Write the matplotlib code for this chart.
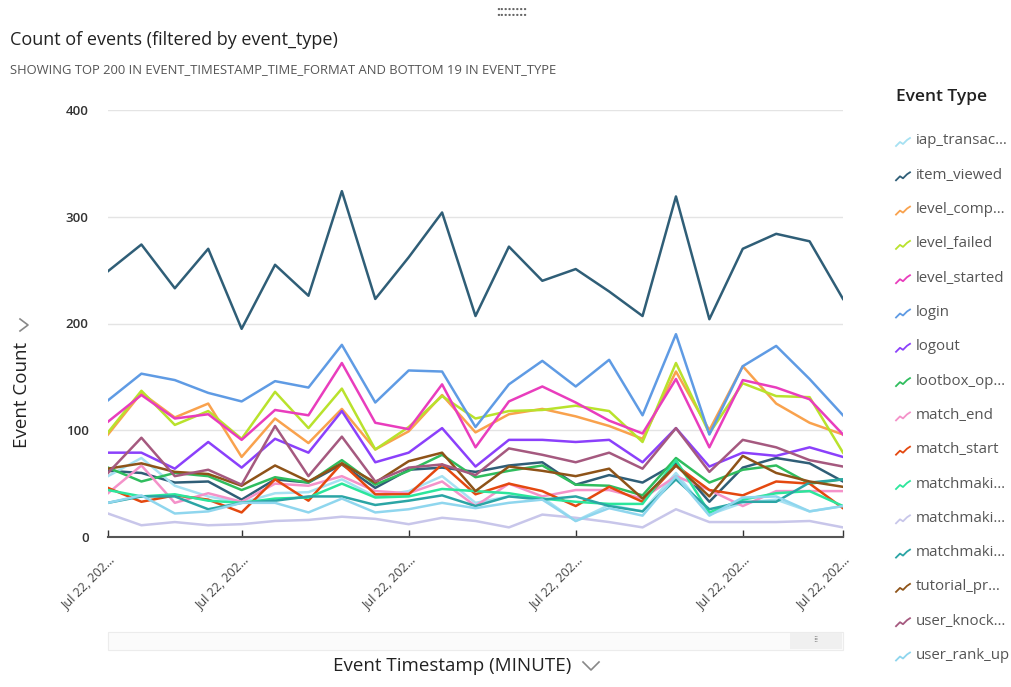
import matplotlib
matplotlib.use("Agg")
import matplotlib.pyplot as plt
from matplotlib.lines import Line2D
from matplotlib.patches import Rectangle

plt.rcParams['font.family'] = ['Open Sans', 'DejaVu Sans']

# minute buckets (all on Jul 22)
minutes = list(range(23))
tick_idx = [0, 4, 9, 14, 19, 22]
tick_text = 'Jul 22, 202…'

iap_transac = [57, 74, 48, 38, 32, 41, 42, 54, 38, 43, 57, 32, 38, 37, 15, 30, 24, 60, 21, 32, 35, 24, 29]
item_viewed = [249, 274, 233, 270, 195, 255, 226, 324, 223, 262, 304, 207, 272, 240, 251, 230, 207, 319, 204, 270, 284, 277, 223]
level_comp = [96, 135, 112, 125, 75, 111, 88, 120, 82, 99, 133, 98, 115, 120, 113, 104, 92, 155, 100, 160, 125, 107, 96]
level_failed = [98, 137, 105, 118, 92, 136, 102, 139, 82, 103, 132, 111, 118, 119, 123, 118, 89, 163, 97, 144, 132, 131, 79]
level_started = [108, 133, 111, 115, 91, 119, 114, 163, 107, 101, 143, 84, 127, 141, 126, 109, 97, 148, 84, 147, 140, 129, 96]
login = [128, 153, 147, 135, 127, 146, 140, 180, 126, 156, 155, 103, 143, 165, 141, 166, 114, 190, 96, 160, 179, 148, 114]
logout = [79, 79, 64, 89, 65, 92, 79, 118, 70, 79, 102, 66, 91, 91, 89, 91, 70, 102, 66, 79, 76, 84, 75]
lootbox_op = [65, 52, 60, 57, 44, 56, 51, 72, 49, 62, 77, 56, 62, 67, 49, 48, 39, 74, 51, 63, 67, 50, 54]
match_end = [41, 67, 32, 41, 33, 50, 48, 57, 43, 41, 52, 29, 50, 38, 44, 44, 36, 57, 44, 29, 43, 43, 43]
match_start = [46, 33, 39, 35, 23, 54, 34, 69, 40, 40, 68, 40, 50, 43, 29, 47, 33, 67, 44, 39, 52, 50, 27]
matchmaking_a = [44, 38, 40, 34, 32, 36, 37, 50, 37, 38, 45, 43, 41, 36, 33, 31, 31, 72, 23, 35, 41, 43, 29]
matchmaking_b = [22, 11, 14, 11, 12, 15, 16, 19, 17, 12, 18, 15, 9, 21, 18, 14, 9, 26, 14, 14, 14, 15, 9]
matchmaking_c = [32, 38, 38, 26, 32, 34, 38, 38, 30, 34, 39, 29, 38, 35, 38, 29, 24, 54, 26, 33, 33, 51, 54]
tutorial_pr = [64, 69, 61, 59, 48, 67, 52, 69, 51, 71, 79, 43, 66, 62, 57, 64, 36, 67, 38, 76, 60, 52, 47]
user_knock = [60, 93, 57, 63, 49, 104, 57, 94, 52, 65, 68, 58, 83, 77, 70, 79, 64, 102, 61, 91, 84, 72, 66]
user_rank_up = [32, 39, 22, 24, 32, 32, 23, 36, 23, 26, 32, 27, 32, 35, 15, 27, 20, 57, 20, 37, 38, 24, 29]
# one more type past the visible end of the legend
other_type = [62, 60, 51, 52, 35, 54, 51, 68, 46, 63, 65, 61, 67, 70, 49, 58, 51, 69, 33, 65, 74, 69, 52]

series = [
    ('iap_transac…', iap_transac, '#a6e1f2'),
    ('item_viewed', item_viewed, '#2f5e77'),
    ('level_comp…', level_comp, '#f9a24d'),
    ('level_failed', level_failed, '#b9e22c'),
    ('level_started', level_started, '#e93dbd'),
    ('login', login, '#5f9be4'),
    ('logout', logout, '#8b40fb'),
    ('lootbox_op…', lootbox_op, '#30bd5e'),
    ('match_end', match_end, '#f492c9'),
    ('match_start', match_start, '#e4480f'),
    ('matchmaki…', matchmaking_a, '#2ce69c'),
    ('matchmaki…', matchmaking_b, '#c8c6ea'),
    ('matchmaki…', matchmaking_c, '#2ba5a5'),
    ('tutorial_pr…', tutorial_pr, '#8e5318'),
    ('user_knock…', user_knock, '#a5597f'),
    ('user_rank_up', user_rank_up, '#8fd6ee'),
]

W, H = 1012, 687


def fx(px):
    return px / W


def fy(py):
    return 1 - py / H


fig = plt.figure(figsize=(10.12, 6.87), dpi=100)
ax = fig.add_axes([fx(108), fy(537), 735 / W, 427 / H])

ax.plot(minutes, other_type, color='#2f5e77', lw=1.8)
for name, vals, col in series:
    ax.plot(minutes, vals, color=col, lw=1.8, label=name)

ax.set_xlim(0, 22)
ax.set_ylim(0, 400)
ax.set_yticks([0, 100, 200, 300, 400])
ax.grid(axis='y', color='#e4e4e4', lw=1)
ax.set_axisbelow(True)
for side in ['top', 'right', 'left']:
    ax.spines[side].set_visible(False)
ax.spines['bottom'].set_color('#555555')
ax.spines['bottom'].set_linewidth(1.5)
ax.tick_params(axis='y', length=0, pad=14, labelsize=9.5, labelcolor='#333333')
ax.tick_params(axis='x', direction='in', length=5, width=1, color='#333333',
               pad=12, labelsize=9, labelcolor='#444444')
ax.set_xticks(tick_idx)
ax.set_xticklabels([tick_text] * len(tick_idx), rotation=45, ha='right',
                   rotation_mode='anchor')
for lbl in ax.get_yticklabels():
    lbl.set_fontweight('semibold')

# axis titles
fig.text(fx(22), fy(395), 'Event Count', rotation=90, ha='center',
         va='center', fontsize=13.5, color='#222222')
fig.add_artist(Line2D([fx(20), fx(28), fx(20)], [fy(319), fy(325), fy(331)],
                      transform=fig.transFigure, color='#888888', lw=1.2))
fig.text(fx(452), fy(666), 'Event Timestamp (MINUTE)', ha='center',
         va='center', fontsize=13.5, color='#222222')
fig.add_artist(Line2D([fx(583), fx(591), fx(599)], [fy(662), fy(670), fy(662)],
                      transform=fig.transFigure, color='#888888', lw=1.2))

# scroll bar under the chart
fig.add_artist(Rectangle((fx(108), fy(650)), 735 / W, 18 / H,
                         transform=fig.transFigure, fc='#fbfbfb',
                         ec='#ececec', lw=0.8))
fig.add_artist(Rectangle((fx(790), fy(649)), 52 / W, 16 / H,
                         transform=fig.transFigure, fc='#f0f0f0', ec='none'))
fig.text(fx(816), fy(641), '⁞⁞', ha='center', va='center',
         fontsize=6, color='#555555')

# titles
fig.text(fx(10), fy(40), 'Count of events (filtered by event_type)',
         ha='left', va='center', fontsize=13, color='#222222')
fig.text(fx(10), fy(70),
         'SHOWING TOP 200 IN EVENT_TIMESTAMP_TIME_FORMAT AND BOTTOM 19 IN EVENT_TYPE',
         ha='left', va='center', fontsize=9.4, color='#555555')
fig.text(fx(512), fy(12), '::::::::', ha='center', va='center',
         fontsize=10, color='#666666', fontweight='bold')

# legend
fig.text(fx(896), fy(97), 'Event Type', ha='left', va='center',
         fontsize=12.5, color='#222222', fontweight='semibold')
zig_x = [896, 900, 903, 907, 910]
zig_y = [5, 1, 3, -1, -3]
for i, (name, vals, col) in enumerate(series):
    yc = 141 + i * 34.3
    fig.add_artist(Line2D([fx(x) for x in zig_x],
                          [fy(yc + dy) for dy in zig_y],
                          transform=fig.transFigure, color=col, lw=1.3))
    fig.text(fx(916), fy(yc), name, ha='left', va='center',
             fontsize=10.8, color='#555555')

fig.savefig('out.png', dpi=100)
